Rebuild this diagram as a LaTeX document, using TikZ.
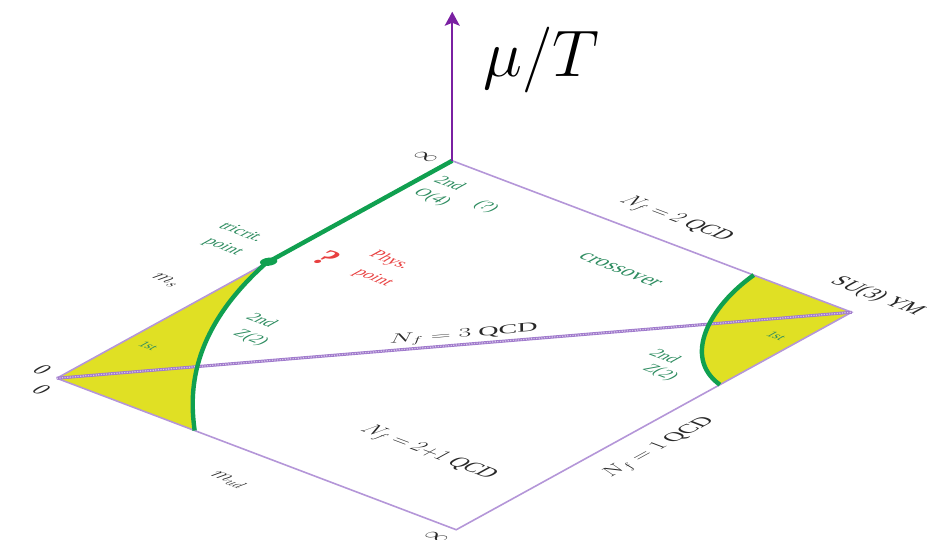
\documentclass[tikz,border=0pt]{standalone}
\usepackage{fontspec}
\setmainfont{Liberation Serif}
\usetikzlibrary{arrows.meta}
\definecolor{edgepurple}{RGB}{180,150,216}
\definecolor{diagpurple}{RGB}{160,122,204}
\definecolor{axispurple}{RGB}{122,32,162}
\definecolor{lgreen}{RGB}{16,160,80}
\definecolor{tgreen}{RGB}{46,140,96}
\definecolor{fillyellow}{RGB}{224,224,36}
\definecolor{tred}{RGB}{232,64,64}
\definecolor{tblack}{RGB}{40,40,40}
\begin{document}
\begin{tikzpicture}[x=1pt,y=1pt,
  edge/.style={draw=edgepurple,line width=1.6pt},
  diagbase/.style={draw=diagpurple,line width=3pt},
  diagdash/.style={draw=white!45!edgepurple,line width=1.2pt,dash pattern=on 1.2pt off 1.4pt},
  gline/.style={draw=lgreen,line width=4.4pt},
  axisarrow/.style={draw=axispurple,line width=2.2pt,-{Stealth[length=14pt,width=15pt,inset=3pt]}},
  blab/.style={font=\fontsize{21}{25}\selectfont,text=tblack,transform shape,inner sep=0pt},
  glab/.style={font=\fontsize{17}{20}\selectfont,text=tgreen,transform shape,inner sep=0pt},
  flab/.style={font=\fontsize{13}{15}\selectfont,text=tgreen,transform shape,inner sep=0pt},
  rlab/.style={font=\fontsize{17}{20}\selectfont,text=tred,transform shape,inner sep=0pt},
  rq/.style={font=\fontsize{32}{36}\selectfont\bfseries,text=tred,transform shape,inner sep=0pt}]
\useasboundingbox (0,0) rectangle (927,540);
\begin{scope}[cm={0.95119,-0.36071,0.94167,0.51786,(56.75pt,161.75pt)}]
  \coordinate (O) at (0,0);
  \coordinate (B) at (420,0);
  \coordinate (T) at (0,420);
  \coordinate (R) at (420,420);
  \coordinate (tc) at (0,222);
  \coordinate (lc) at (145,0);
  \coordinate (rt) at (317,420);
  \coordinate (rb) at (420,280);
  % first-order regions
  \fill[fillyellow] (O) -- (lc) .. controls (100,40) and (30,110) .. (tc) -- cycle;
  \fill[fillyellow] (R) -- (rt) .. controls (325,365) and (365,295) .. (rb) -- cycle;
  % square edges
  \draw[edge] (O) -- (B) -- (R) -- (T) -- (O);
  % diagonal Nf=3
  \draw[diagbase] (O) -- (R);
  \draw[diagdash] (O) -- (R);
  % second order lines
  \draw[gline] (lc) .. controls (100,40) and (30,110) .. (tc);
  \draw[gline] (rt) .. controls (325,365) and (365,295) .. (rb);
  \draw[gline] (tc) -- (T);
  \fill[lgreen] (0,225) circle (6.5);
  % labels
  \node[blab] (ms) at (-43,159) {$m_s$};
  \node[blab] (mud) at (222,-42) {$m_{ud}$};
  \node[blab] (z1) at (-18,3) {0};
  \node[blab] (z2) at (4,-20) {0};
  \node[blab] (inf1) at (-21,413) {$\infty$};
  \node[blab] (inf2) at (416,-17) {$\infty$};
  \node[blab] (nf2) at (205,450) {$N_f=2$ QCD};
  \node[blab] (su3) at (418,449) {SU(3) YM};
  \node[blab,rotate=45] (nf3) at (204,226) {$N_f=3$ QCD};
  \node[blab] (nf21) at (315,76) {$N_f=2{+}1$ QCD};
  \node[blab,rotate=90] (nf1) at (453,182) {$N_f=1$ QCD};
  \node[glab,font=\fontsize{21}{24}\selectfont] (cross) at (228,368) {crossover};
  \node[glab] (tri1) at (-50,248) {tricrit.};
  \node[glab] (tri2) at (-45,222) {point};
  \node[glab] (o4a) at (24,394) {2nd};
  \node[glab] (o4b) at (29,369) {O(4)};
  \node[glab] (o4c) at (73,382) {(?)};
  \node[glab] (z2la) at (62,156) {2nd};
  \node[glab] (z2lb) at (75,130) {Z(2)};
  \node[glab] (z2ra) at (354,289) {2nd};
  \node[glab] (z2rb) at (369,268) {Z(2)};
  \node[flab] (f1l) at (20,77) {1st};
  \node[flab] (f1r) at (400,360) {1st};
  \node[rlab] (phys1) at (74,279) {Phys.};
  \node[rlab] (phys2) at (83,252) {point};
  \node[rq] (q) at (32,254) {?};
\end{scope}
\draw[axisarrow] (T) -- ++(0,149);
\node[anchor=base west,inner sep=0pt,scale=2.65,font=\Huge] (mu) at (483,463) {$\mu/T$};
\end{tikzpicture}
\end{document}
